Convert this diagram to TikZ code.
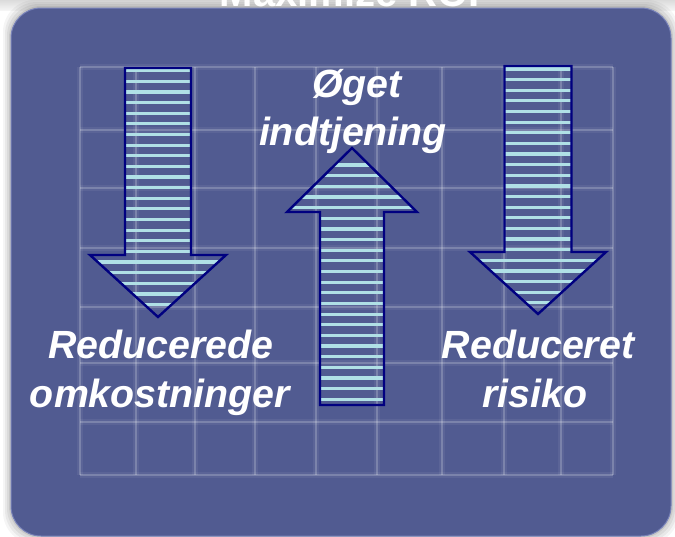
\documentclass[tikz,border=0pt]{standalone}
\usepackage{fontspec}
\setmainfont{Liberation Sans}
\definecolor{panelblue}{RGB}{81,91,145}
\definecolor{panelrim}{RGB}{120,130,185}
\definecolor{arrownavy}{RGB}{0,0,128}
\definecolor{stripecyan}{RGB}{176,224,230}
\begin{document}
\begin{tikzpicture}[x=0.75pt,y=-0.75pt,
  panel/.style={fill=panelblue, draw=panelrim, line width=0.75pt, rounded corners=22.5pt},
  gridline/.style={draw=white, draw opacity=0.2, line width=1.6pt},
  gridglow/.style={draw=white, draw opacity=0.06, line width=4.5pt},
  arrowrim/.style={draw=arrownavy, line width=1.8pt, line join=miter},
  stripe/.style={draw=stripecyan, line width=2.4pt},
  txt/.style={text=white, font=\fontsize{29.5}{34}\selectfont\bfseries\itshape, inner sep=0pt, anchor=base},
  titletxt/.style={text=white, font=\fontsize{30}{36}\selectfont\bfseries, inner sep=0pt, anchor=base},
]
\useasboundingbox (0,0) rectangle (675,536);
\clip (0,0) rectangle (675,536);

% page and soft shadow round the panel
\fill[white] (0,0) rectangle (675,536);
\shade[top color=black!14, bottom color=black!4] (0,0) rectangle (675,10);
\foreach \d/\o in {8/0.04,6/0.05,4/0.06,2/0.08}
  \fill[black, opacity=\o, rounded corners=24pt] (11-\d,8-\d) rectangle (671+\d,536+\d);

% title, largely hidden above the panel
\node[titletxt] (title) at (350,6) {Maximize ROI};

% panel
\path[panel] (11,8) rectangle (671,536);

% faint grid
\foreach \x in {80,136,195,255,316,377,442,504,561,613}{
  \draw[gridglow] (\x,67) -- (\x,475);
  \draw[gridline] (\x,67) -- (\x,475);
}
\foreach \y in {67,130,188,248,307,363,422,475}{
  \draw[gridglow] (80,\y) -- (613,\y);
  \draw[gridline] (80,\y) -- (613,\y);
}

% left arrow (down)
\begin{scope}
  \clip (125,68) -- (191,68) -- (191,255) -- (226,255) -- (158,317) -- (90,255) -- (125,255) -- cycle;
  \foreach \k in {0,...,22}
    \draw[stripe] (80,{70.7+10.63*\k}) -- (240,{70.7+10.63*\k});
\end{scope}
\draw[arrowrim] (125,68) -- (191,68) -- (191,255) -- (226,255) -- (158,317) -- (90,255) -- (125,255) -- cycle;

% right arrow (down)
\begin{scope}
  \clip (504.5,66) -- (571.5,66) -- (571.5,252) -- (606,252) -- (538,314) -- (470,252) -- (504.5,252) -- cycle;
  \foreach \k in {0,...,22}
    \draw[stripe] (460,{69+10.63*\k}) -- (615,{69+10.63*\k});
\end{scope}
\draw[arrowrim] (504.5,66) -- (571.5,66) -- (571.5,252) -- (606,252) -- (538,314) -- (470,252) -- (504.5,252) -- cycle;

% middle arrow (up)
\begin{scope}
  \clip (352,148) -- (417,212) -- (384,212) -- (384,405) -- (320,405) -- (320,212) -- (287,212) -- cycle;
  \foreach \k in {0,...,22}
    \draw[stripe] (280,{165+10.65*\k}) -- (425,{165+10.65*\k});
\end{scope}
\draw[arrowrim] (352,148) -- (417,212) -- (384,212) -- (384,405) -- (320,405) -- (320,212) -- (287,212) -- cycle;

% labels
\node[txt] (gain1) at (357,97) {Øget};
\node[txt] (gain2) at (353,145) {indtjening};
\node[txt] (cost1) at (161,358) {Reducerede};
\node[txt] (cost2) at (160,407) {omkostninger};
\node[txt] (risk1) at (538,358) {Reduceret};
\node[txt] (risk2) at (535,407) {risiko};
\end{tikzpicture}
\end{document}
